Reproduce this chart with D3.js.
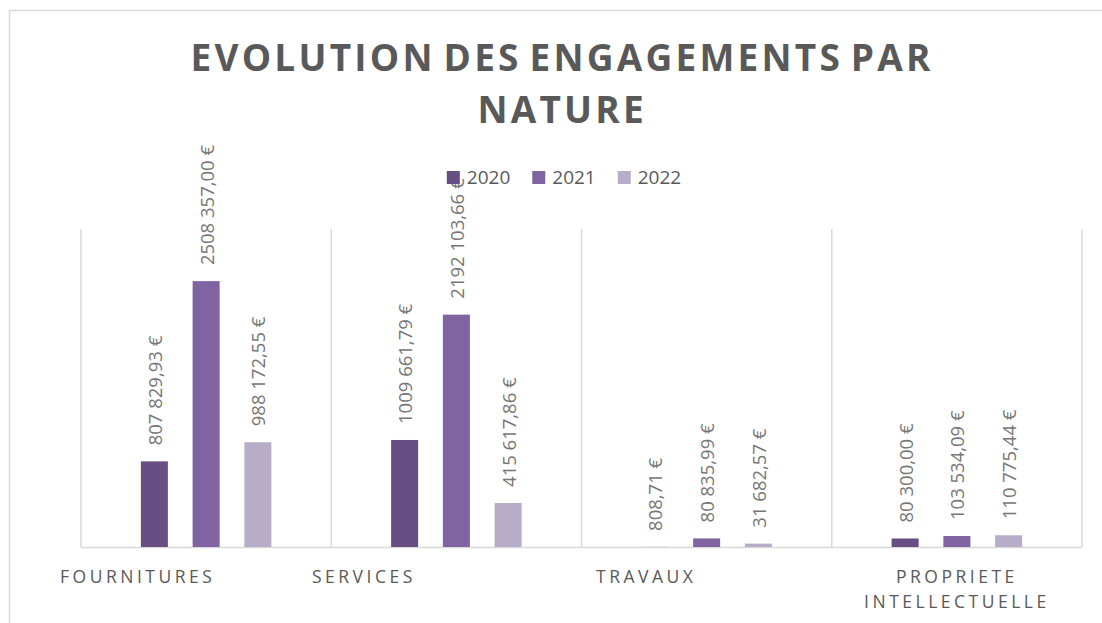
<!DOCTYPE html>
<html>
<head>
<meta charset="utf-8">
<script src="https://cdn.jsdelivr.net/npm/d3@7"></script>
<style>
  html, body { margin: 0; padding: 0; background: #fff; }
  svg { display: block; font-family: "Open Sans", "Noto Sans", sans-serif; }
</style>
</head>
<body>
<svg id="chart" width="1102" height="623"></svg>
<script>
// ---- data ----
const titleLines = ["EVOLUTION DES ENGAGEMENTS PAR", "NATURE"];
const categories = [
  "FOURNITURES" + "\u00A0".repeat(17),
  "SERVICES" + "\u00A0".repeat(23),
  "TRAVAUX" + "\u00A0".repeat(15),
  "PROPRIETE INTELLECTUELLE"
];
const years = ["2020", "2021", "2022"];
const values2020 = [807829.93, 1009661.79, 808.71, 80300.00];
const values2021 = [2508357.00, 2192103.66, 80835.99, 103534.09];
const values2022 = [988172.55, 415617.86, 31682.57, 110775.44];
const yDomainMax = 3000000;

const series = [values2020, values2021, values2022];
const colors = ["#674F83", "#8064A2", "#B8ADC9"];

// ---- layout ----
const W = 1102, H = 623;
const plot = { left: 81, right: 1082, top: 229, bottom: 547 };
const svg = d3.select("#chart");

// outer chart border
svg.append("rect")
  .attr("x", 9.5).attr("y", 10.5)
  .attr("width", 1110).attr("height", 640)
  .attr("fill", "none").attr("stroke", "#d9d9d9").attr("stroke-width", 1.5);

const x0 = d3.scaleBand().domain(categories).range([plot.left, plot.right]);
const x1 = d3.scaleBand().domain(years).range([0, x0.bandwidth()])
  .paddingInner(0.478).paddingOuter(1.157);
const y = d3.scaleLinear().domain([0, yDomainMax]).range([plot.bottom, plot.top]);

const locale = d3.formatLocale({ decimal: ",", thousands: " ", grouping: [3, 12], currency: ["", " €"] });
const fmt = locale.format("$,.2f");

// vertical category dividers
const bounds = categories.map(c => x0(c)).concat([x0(categories[categories.length - 1]) + x0.bandwidth()]);
svg.append("g").selectAll("line").data(bounds).join("line")
  .attr("x1", d => d).attr("x2", d => d)
  .attr("y1", plot.top).attr("y2", plot.bottom)
  .attr("stroke", "#d9d9d9").attr("stroke-width", 1.5);

// baseline
svg.append("line")
  .attr("x1", plot.left).attr("x2", plot.right)
  .attr("y1", y(0) + 0.5).attr("y2", y(0) + 0.5)
  .attr("stroke", "#d9d9d9").attr("stroke-width", 1.5);

// bars + labels
const flat = [];
categories.forEach((c, ci) => {
  years.forEach((yr, si) => {
    flat.push({ c, yr, si, v: series[si][ci] });
  });
});

svg.append("g").selectAll("rect").data(flat).join("rect")
  .attr("x", d => x0(d.c) + x1(d.yr))
  .attr("y", d => y(d.v))
  .attr("width", x1.bandwidth())
  .attr("height", d => y(0) - y(d.v))
  .attr("fill", d => colors[d.si]);

svg.append("g").selectAll("text").data(flat).join("text")
  .attr("transform", d => `translate(${x0(d.c) + x1(d.yr) + x1.bandwidth() / 2},${y(d.v) - 16}) rotate(-90)`)
  .attr("text-anchor", "start")
  .attr("dominant-baseline", "central")
  .attr("font-size", 18.5)
  .attr("fill", "#767676")
  .text(d => fmt(d.v));

// category labels: the full label (with its trailing padding) is centred in the band,
// only the visible part is drawn; wrapped to the band width
const catG = svg.append("g");
categories.forEach(c => {
  const cx = x0(c) + x0.bandwidth() / 2;
  const t = catG.append("text")
    .attr("y", 583)
    .attr("text-anchor", "start")
    .attr("font-size", 17.5)
    .attr("letter-spacing", 3.5)
    .attr("fill", "#595959");
  const probe = t.append("tspan");
  const words = c.split(" ");
  let lines = [], cur = [];
  words.forEach(w => {
    probe.text(cur.concat([w]).join(" "));
    if (cur.length && probe.node().getComputedTextLength() > x0.bandwidth()) {
      lines.push(cur.join(" "));
      cur = [w];
    } else cur.push(w);
  });
  lines.push(cur.join(" "));
  lines.forEach((ln, i) => {
    probe.text(ln);
    const full = probe.node().getComputedTextLength();
    const vis = ln.replace(/\u00A0+$/, "");
    t.append("tspan").attr("x", cx - full / 2).attr("dy", i === 0 ? 0 : 25).text(vis);
  });
  probe.remove();
});

// title
const titleG = svg.append("g");
const titleSize = 37;
const wordSpacing = -5;
const t1 = titleG.append("text").attr("font-size", titleSize).attr("font-weight", 700)
  .attr("word-spacing", wordSpacing).text(titleLines[0]);
const natural = t1.node().getComputedTextLength();
t1.remove();
const ls = (740 - natural) / (titleLines[0].length - 1);
titleLines.forEach((ln, i) => {
  titleG.append("text")
    .attr("x", 560.5 + ls / 2)
    .attr("y", 71 + i * 52)
    .attr("text-anchor", "middle")
    .attr("font-size", titleSize)
    .attr("font-weight", 700)
    .attr("letter-spacing", ls)
    .attr("word-spacing", wordSpacing)
    .attr("fill", "#595959")
    .text(ln);
});

// legend (drawn last, on top of labels)
const legend = svg.append("g");
const items = years.map((yr, i) => {
  const g = legend.append("g");
  g.append("rect").attr("x", 0).attr("y", 171).attr("width", 13).attr("height", 13).attr("fill", colors[i]);
  const tx = g.append("text").attr("x", 20).attr("y", 184).attr("font-size", 19).attr("fill", "#595959").text(yr);
  return { g, w: 20 + tx.node().getComputedTextLength() };
});
const gap = 22;
const total = d3.sum(items, d => d.w) + gap * (items.length - 1);
let lx = 564 - total / 2;
items.forEach(it => { it.g.attr("transform", `translate(${lx},0)`); lx += it.w + gap; });
</script>
</body>
</html>
